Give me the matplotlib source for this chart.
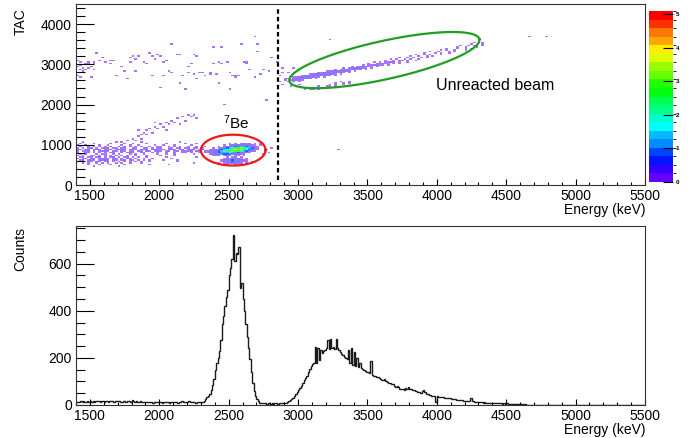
import colorsys
import numpy as np
import matplotlib
matplotlib.use("Agg")
import matplotlib.pyplot as plt
from matplotlib.colors import ListedColormap, BoundaryNorm
from matplotlib.cm import ScalarMappable
from matplotlib.ticker import MultipleLocator

plt.rcParams['font.family'] = ['Liberation Sans', 'DejaVu Sans']
plt.rcParams['mathtext.default'] = 'regular'

# ---------------- energy spectrum (10 keV bins starting at 1400 keV)
spec_e0 = 1400
spec_step = 10
counts = [
    12, 14, 11, 15, 13, 16, 12, 14, 15, 13,          # 1400
    15, 14, 17, 13, 16, 15, 18, 14, 16, 15,          # 1500
    14, 17, 15, 13, 16, 18, 15, 14, 17, 16,          # 1600
    19, 15, 14, 12, 16, 14, 13, 15, 17, 14,          # 1700
    20, 16, 13, 15, 12, 14, 16, 13, 11, 14,          # 1800
    12, 13, 11, 14, 12, 10, 13, 12, 11, 13,          # 1900
    11, 12, 10, 13, 11, 12, 14, 10, 12, 11,          # 2000
    13, 11, 12, 10, 14, 12, 18, 13, 12, 14,          # 2100
    12, 15, 11, 13, 14, 12, 10, 11, 13, 12,          # 2200
    12, 14, 18, 25, 32, 40, 48, 62, 85, 110,         # 2300
    150, 180, 200, 230, 275, 345, 380, 420, 460, 490,  # 2400
    550, 580, 620, 720, 610, 645, 640, 670, 495, 520,  # 2500
    450, 400, 345, 290, 240, 195, 140, 95, 60, 40,   # 2600
    25, 15, 10, 8, 10, 7, 9, 6, 8, 7,                # 2700
    6, 8, 5, 7, 9, 6, 8, 7, 10, 8,                   # 2800
    8, 10, 12, 15, 20, 25, 30, 38, 45, 55,           # 2900
    65, 72, 82, 95, 105, 115, 125, 140, 152, 165,    # 3000
    175, 180, 245, 178, 240, 190, 235, 220, 228, 235,  # 3100
    240, 275, 238, 280, 240, 245, 238, 282, 240, 232,  # 3200
    225, 218, 212, 205, 200, 195, 235, 180, 240, 170,  # 3300
    225, 165, 200, 160, 180, 155, 152, 148, 145, 142,  # 3400
    140, 136, 185, 128, 125, 122, 120, 118, 115, 112,  # 3500
    108, 105, 110, 100, 97, 95, 92, 88, 90, 82,      # 3600
    78, 80, 75, 70, 66, 68, 64, 72, 70, 75,          # 3700
    70, 68, 62, 64, 58, 60, 55, 57, 52, 60,          # 3800
    65, 55, 48, 45, 42, 44, 40, 38, 40, 14,          # 3900
    38, 36, 35, 33, 34, 31, 30, 31, 28, 29,          # 4000
    27, 26, 25, 24, 23, 22, 21, 22, 20, 19,          # 4100
    18, 17, 18, 16, 28, 17, 15, 14, 13, 13,          # 4200
    12, 11, 12, 10, 11, 10, 9, 10, 9, 8,             # 4300
    9, 8, 7, 8, 7, 9, 7, 6, 7, 6,                    # 4400
    7, 6, 5, 6, 5, 4, 5, 4, 3, 4,                    # 4500
    3, 3, 2, 3, 2, 2, 1, 2, 1, 1,                    # 4600
    1, 1, 0, 1, 0, 0, 1, 0, 0, 0,                    # 4700
    0, 0, 0, 0, 0, 0, 0, 0, 0, 0,                    # 4800
    0, 0, 0, 0, 0, 0, 0, 0, 0, 0,                    # 4900
    0, 0, 0, 0, 0, 0, 0, 0, 0, 0,                    # 5000
    0, 0, 0, 0, 0, 0, 0, 0, 0, 0,                    # 5100
    0, 0, 0, 0, 0, 0, 0, 0, 0, 0,                    # 5200
    0, 0, 0, 0, 0, 0, 0, 0, 0, 0,                    # 5300
    0, 0, 0, 0, 0, 0, 0, 0, 0, 0,                    # 5400
]

# ---------------- TAC vs energy map
# 2D bins: 20 keV x 37.5 TAC channels. Each letter in a row is one bin,
# 'a' = lowest colour level, 'b' next ... ; '.' = empty bin.
# (tac lower edge, first energy, row)
be_rows = [
    (1012.5, 2340, "........a.a.abab.a.a"),
    (975.0, 2340, "......a.abbcccbbaa.a"),
    (937.5, 2340, "....a.abbcdeffdcbba."),
    (900.0, 2340, "..a.abcdfhjlmjhfdba."),
    (862.5, 2340, ".abbcdfgikpqnjgdcba."),
    (825.0, 2340, "abbcdfhijmljhfdcba.."),
    (787.5, 2340, "abccdeffgfedcbba...."),
    (750.0, 2340, ".abcccddccbbaa......"),
    (712.5, 2340, "..aab.bab.aa.a......"),
    (675.0, 2340, ".......a.aa.a......."),
    (637.5, 2340, "......aabbbba.a....."),
    (600.0, 2340, ".....abccdccbba....."),
    (562.5, 2340, ".....abccdccbba.a..."),
    (525.0, 2340, "....a.abbbbba.a....."),
    (487.5, 2340, ".......a..a........."),
]

low_rows = [
    (1050.0, 1400, "..a......." "....a....." "...a......" ".......a.." "......."),
    (1012.5, 1400, ".a....a..." "..a....a.." "a....a...." "..a......a" "...a..."),
    (975.0, 1400, "a..a....a." ".a....a..a" "..a.....a." ".a...a...." ".a....."),
    (937.5, 1400, ".a..a.a.a." "a.a..a.a.a" ".a.a..a..a" "a..a.a.a.." "a..a..a"),
    (900.0, 1400, "a.a.ab.a.a" "ab.aa.ba.." "aa..ab.a.a" "a..aa.ab.a" "a.aa.a."),
    (862.5, 1400, "ba.ba.aab." "abb.abba.a" "ba.bab.bab" "ab.aba.ba." "bab.ab."),
    (825.0, 1400, "a.aab.a.ab" "ba.ba.ba.a" "b.ba.ba.ab" "a.ab.ab.aa" "ab.ba.a"),
    (787.5, 1400, "a..ab.a.a." "a.ab..a.ab" "a..ba..a.a" "..a..a..aa" ".a..a.a"),
    (750.0, 1400, ".a.a...a.a" "a..a.a...a" ".a..a....a" "..a..a...." "..a...."),
    (712.5, 1400, "a.a..aa.a." "a.a.b.a.a." ".a...a...." "a....a...." "......."),
    (675.0, 1400, ".aa.aa.ab." "a.ab.a.ab." "a.a..a...." "..a......." "...a..."),
    (637.5, 1400, "a.ab.ab.ab" "ab.ab.a.aa" ".a..a..a.." "....a....." "......."),
    (600.0, 1400, ".ab.bab.ab" "ba.ba.ab.a" "a.a.a.a..." ".a....a..." "......."),
    (562.5, 1400, "a.a.ab.ab." "ab.a.a.a.a" ".a.a..a..." "......a..." "......."),
    (525.0, 1400, "..a.a..a.a" ".a..a.a..a" "...a......" ".........." "..a...."),
    (487.5, 1400, "....a...a." "..a....a.." "......a..." "...a......" "......."),
    (450.0, 1400, "......a..." ".....a...." ".........." ".........." "......."),
]

beam_rows = [
    (2362.5, 3040, "a.aa.a"),
    (2400.0, 3080, "a.a.aa.a"),
    (2437.5, 3140, "a..aa.a"),
    (2475.0, 3200, ".a.a..a"),
    (2512.5, 3260, "a..a.a"),
    (2550.0, 3300, "a..a"),
    (2550.0, 2920, "a.a.a"),
    (2587.5, 2900, "a.abbaa."),
    (2625.0, 2920, "a.abbbbba.a."),
    (2662.5, 2960, "aabbccbbaa.a"),
    (2700.0, 3020, "abbccbbbbaa.a"),
    (2737.5, 3080, "abbcbcbbba.a"),
    (2775.0, 3140, "aabbcbbbba.a"),
    (2812.5, 3200, "aabbbbbba.a"),
    (2850.0, 3260, "a.abbbbbaa.a"),
    (2887.5, 3320, "a.abbbbaa.a"),
    (2925.0, 3380, "a.aabbaa.a."),
    (2962.5, 3440, ".a.aabbaa.a"),
    (3000.0, 3500, "a..aabaa.a.a"),
    (3037.5, 3540, "a.a.aaba.a..a"),
    (3075.0, 3620, "a..a.aa.a..a"),
    (3112.5, 3660, "a.a..a.a..a"),
    (3150.0, 3720, "a..a.a..a.a"),
    (3187.5, 3780, ".a..a..a.a"),
    (3225.0, 3840, "a..a.a...a."),
    (3262.5, 3880, ".a...a.a..a"),
    (3300.0, 3940, "a..a...a.a"),
    (3337.5, 4000, ".a.a..a...a"),
    (3375.0, 4060, "a...a..a.a"),
    (3412.5, 4120, ".a..a...a"),
    (3450.0, 4160, "a..a.a..a"),
    (3487.5, 4220, ".a...a"),
    (3525.0, 4260, "a..a"),
]

# isolated single entries (lowest level)
scatter_E = [1405, 1412, 1424, 1436, 1448, 1460, 1484, 1496, 1520, 1544, 1424, 1508,
             1532, 1568, 1592, 1604, 1640, 1652, 1676, 1688, 1724, 1748, 1760, 1784,
             1796, 1808, 1832, 1832, 1856, 1880, 1904, 1928, 1940, 1952, 1976, 1988,
             2000, 2012, 2024, 2036, 2048, 2072, 2085, 2097, 2121, 2145, 2157, 2169,
             2193, 2205, 2217, 2229, 2241, 2253, 2265, 2277, 2289, 2313, 2337, 2361,
             2373, 2385, 2397, 2409, 2421, 2433, 2445, 2457, 2469, 2481, 2505, 2517,
             2529, 2541, 2553, 2577, 2589, 2601, 2625, 2637, 2649, 2685, 2697, 2709,
             2709, 2721, 2745, 2769, 2781, 2805, 2841, 2889,
             1400, 1420, 1440, 1460, 1480, 1500, 1520, 1410, 1450,
             1720, 1760, 1780, 1800, 1820, 1840, 1860, 1870, 1880, 1900, 1900, 1920,
             1940, 1960, 1980, 2000, 2020, 2040, 2060, 2080, 2100, 2120, 2160, 2200,
             2220, 2240, 2260, 2180, 1840, 1960, 2050, 2140,
             4670, 4790, 3230, 3290, 2900, 2880, 2920, 2870, 2940, 2960, 2880, 3000, 2860,
             2760, 2800, 2780, 2740]
scatter_T = [2708, 3083, 2875, 3042, 2833, 3000, 2917, 3042, 2875, 3292, 2667, 2667,
             3042, 3083, 3167, 3042, 3000, 3083, 3083, 2708, 2958, 2833, 2625, 3042,
             3167, 3208, 3125, 2833, 3208, 3042, 3000, 3292, 3208, 2708, 3125, 3250,
             3208, 2417, 3042, 2708, 3083, 2833, 3500, 2792, 3250, 2542, 3250, 2708,
             2375, 2792, 2958, 3000, 2750, 3250, 3208, 2625, 2792, 2792, 2708, 2750,
             2792, 3417, 3000, 2750, 2542, 3042, 3417, 3000, 2000, 3042, 2792, 2375,
             2708, 2667, 2708, 2708, 3500, 3042, 3042, 3000, 2875, 2667, 3708, 3500,
             3333, 2750, 2875, 2125, 2833, 3167, 3042, 2792,
             2950, 2990, 2920, 2880, 3020, 2960, 3000, 2800, 2780,
             1050, 1100, 1000, 1150, 1100, 1200, 1250, 1150, 1300, 1350, 1250, 1400,
             1300, 1450, 1400, 1500, 1450, 1550, 1500, 1600, 1550, 1650, 1700, 1750,
             1700, 1750, 1680, 1600, 1350, 1550, 1350, 1500,
             3690, 3690, 3620, 870, 2650, 2500, 2780, 2700, 2450, 2900, 2900, 2480, 2560,
             880, 920, 800, 760]

z_max = 5.1
n_levels = 20
level_w = z_max / n_levels

E_pts, T_pts, V_pts = [], [], []
for tac, e_first, row in be_rows + low_rows + beam_rows:
    for c, ch in enumerate(row):
        if ch != '.':
            E_pts.append(e_first + 20 * c + 10)
            T_pts.append(tac + 18.75)
            V_pts.append((ord(ch) - ord('a') + 0.5) * level_w)
for e, t in zip(scatter_E, scatter_T):
    E_pts.append(e)
    T_pts.append(t)
    V_pts.append(0.5 * level_w)

# ROOT "pretty" palette, 20 contour levels
palette = []
for i in range(n_levels):
    k = int((i + 0.99) * 50 / n_levels)
    hue = 280 - (k + 1) * 280 / 50
    palette.append(colorsys.hls_to_rgb(hue / 360, 0.5, 1.0))
cmap = ListedColormap(palette)
norm = BoundaryNorm(np.linspace(0, z_max, n_levels + 1), n_levels)

# the tiny bins look washed out in the original, lighten them a bit
soft = []
for i, c in enumerate(palette):
    f = 0.45 if i < 3 else 0.15
    soft.append(tuple(v * (1 - f) + f for v in c))
soft_cmap = ListedColormap(soft)

fig = plt.figure(figsize=(6.89, 4.38), dpi=100)
W, H = 689, 438
ax1 = fig.add_axes([76 / W, 1 - 185 / H, 569 / W, 181 / H])
ax2 = fig.add_axes([76 / W, 1 - 405 / H, 569 / W, 179 / H])
cax = fig.add_axes([649 / W, 1 - 182 / H, 24 / W, 171 / H])

Hh, xe, ye = np.histogram2d(E_pts, T_pts, bins=[np.arange(1400, 5501, 20), np.arange(0, 4501, 37.5)],
                            weights=V_pts)
Hh = np.ma.masked_equal(Hh, 0)
ax1.pcolormesh(xe, ye, Hh.T, cmap=soft_cmap, norm=norm)

t = np.linspace(0, 2 * np.pi, 300)
ax1.plot(2533 + 233 * np.cos(t), 867 + 384 * np.sin(t), color='#f01818', lw=1.6)
ax1.plot(3622 + 684.6 * np.cos(t) + 29.5 * np.sin(t), 3105 + 521 * np.cos(t) - 466 * np.sin(t),
         color='#1f9e1f', lw=1.6)
ax1.plot([2858, 2858], [125, 4390], color='black', lw=1.6, ls=(0, (2, 1.4)))
ax1.text(2553, 1550, r'$^{7}$Be', ha='center', va='center', fontsize=11)
ax1.text(4419, 2475, 'Unreacted beam', ha='center', va='center', fontsize=11.5)
ax1.set_ylim(0, 4500)
ax1.yaxis.set_major_locator(MultipleLocator(1000))
ax1.yaxis.set_minor_locator(MultipleLocator(200))

edges = spec_e0 + spec_step * np.arange(len(counts) + 1)
ax2.stairs(counts, edges, baseline=None, color='#1a1a1a', lw=1.0)
ax2.set_ylim(0, 760)
ax2.yaxis.set_major_locator(MultipleLocator(200))
ax2.yaxis.set_minor_locator(MultipleLocator(50))

for ax in (ax1, ax2):
    ax.set_xlim(1400, 5500)
    ax.xaxis.set_major_locator(MultipleLocator(500))
    ax.xaxis.set_minor_locator(MultipleLocator(100))
    ax.tick_params(axis='x', which='major', direction='in', length=4.3, width=0.8, pad=3, labelsize=10)
    ax.tick_params(axis='x', which='minor', direction='in', length=2.2, width=0.8)
    ax.tick_params(axis='y', which='major', direction='in', length=13, width=0.8, pad=3, labelsize=10)
    ax.tick_params(axis='y', which='minor', direction='in', length=6.5, width=0.8)
    for s in ax.spines.values():
        s.set_linewidth(0.8)
        s.set_color('#333333')

cb = fig.colorbar(ScalarMappable(norm=norm, cmap=cmap), cax=cax, ticks=range(6))
cb.outline.set_visible(False)
cax.tick_params(direction='in', length=7.2, width=0.8, labelsize=4.5, pad=2)
for lbl in cax.get_yticklabels():
    lbl.set_fontweight('bold')

fig.text(21 / W, 1 - 8 / H, 'TAC', rotation=90, ha='center', va='top', fontsize=10)
fig.text(645 / W, 1 - 203 / H, 'Energy (keV)', ha='right', va='top', fontsize=10)
fig.text(20.5 / W, 1 - 227 / H, 'Counts', rotation=90, ha='center', va='top', fontsize=10)
fig.text(645 / W, 1 - 423 / H, 'Energy (keV)', ha='right', va='top', fontsize=10)

fig.savefig('out.png', dpi=100)
